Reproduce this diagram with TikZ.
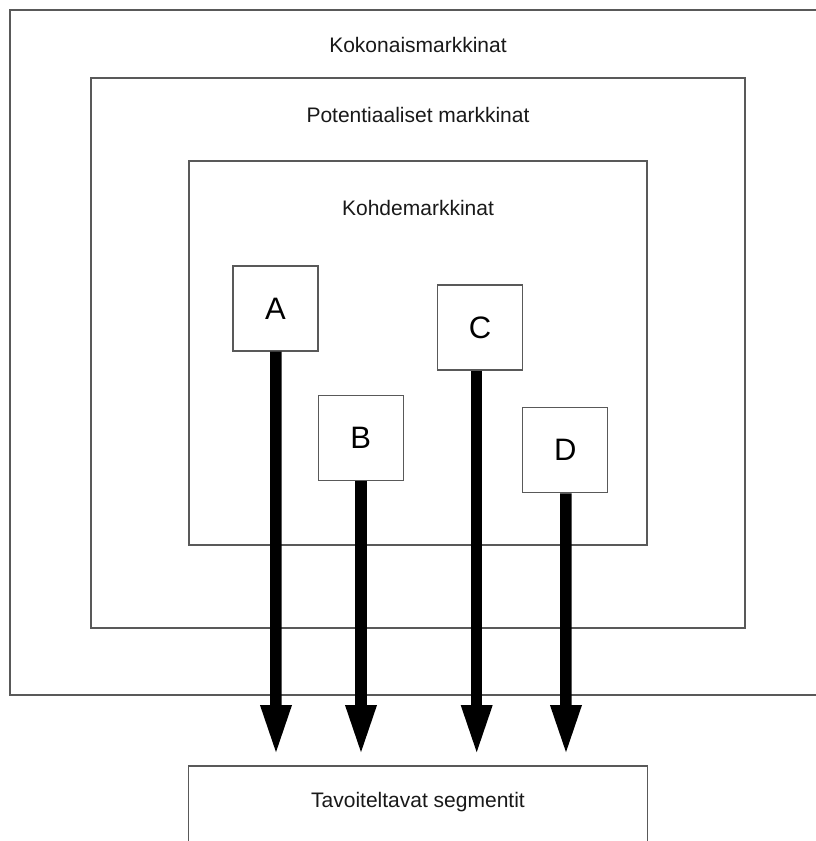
\documentclass[tikz,border=0pt]{standalone}
\usepackage{fontspec}
\setmainfont{Liberation Sans}
\usetikzlibrary{arrows.meta}
\begin{document}
\begin{tikzpicture}[x=1pt,y=-1pt,
  frame/.style={draw=black!65, line width=1.3pt, fill=white, inner sep=0pt, minimum width=#1},
  letterbox/.style={draw=black!65, line width=1.3pt, fill=white, inner sep=0pt, minimum width=85pt, minimum height=85pt, font=\fontsize{31}{36}\selectfont},
  lbl/.style={inner sep=0pt, font=\fontsize{21}{25}\selectfont, text=black!90},
  bigarrow/.style={line width=11.5pt, draw=black, -{Triangle[length=51pt,width=28pt]}}
]
\useasboundingbox (0,0) rectangle (816,841);
\clip (0,0) rectangle (816,841);
\fill[white] (0,0) rectangle (816,841);
% frames
\node[frame=820pt, minimum height=685pt] (outer) at (420,352.5) {};
\node[frame=654pt, minimum height=550pt] (pot) at (418,353) {};
\node[frame=458pt, minimum height=384pt] (koh) at (418,353) {};
\node[frame=458.5pt, minimum height=120pt] (seg) at (418,826) {};
% labels
\node[lbl] (tko) at (418,45) {Kokonaismarkkinat};
\node[lbl] (tpo) at (418,115) {Potentiaaliset markkinat};
\node[lbl] (tkh) at (418,208) {Kohdemarkkinat};
\node[lbl] (tseg) at (418,802) {Tavoiteltavat segmentit};
% letter boxes
\node[letterbox] (A) at (275.5,308.5) {A};
\node[letterbox] (B) at (360.7,437.7) {B};
\node[letterbox] (C) at (480,327.5) {C};
\node[letterbox] (D) at (565.3,450.2) {D};
% arrow end points
\coordinate (eA) at (276,756);
\coordinate (eB) at (361,756);
\coordinate (eC) at (476.7,756);
\coordinate (eD) at (566,756);
\draw[bigarrow] ([xshift=0.4pt]A.south) -- (eA);
\draw[bigarrow] ([xshift=0.3pt]B.south) -- (eB);
\draw[bigarrow] ([xshift=-3.3pt]C.south) -- (eC);
\draw[bigarrow] ([xshift=0.6pt]D.south) -- (eD);
\end{tikzpicture}
\end{document}
